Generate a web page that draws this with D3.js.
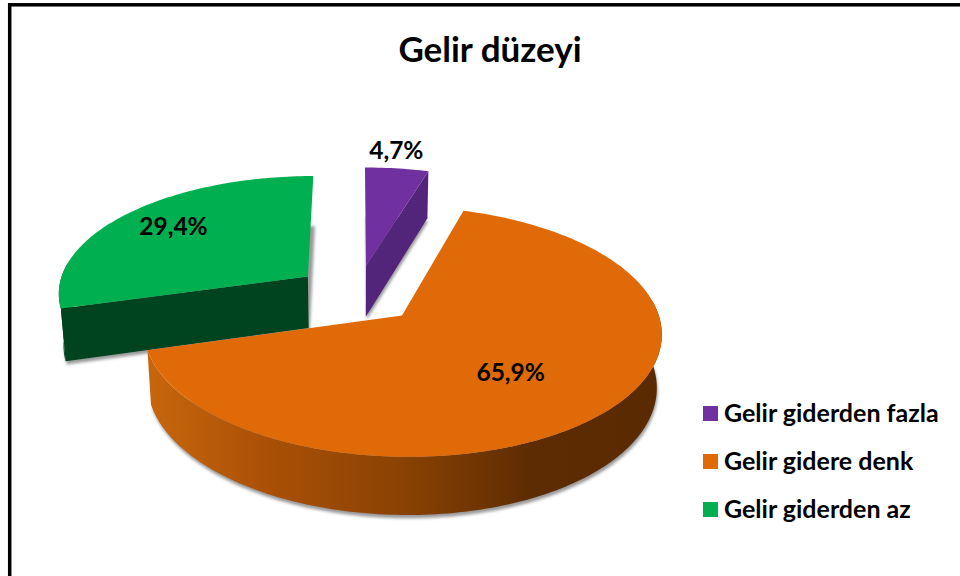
<!DOCTYPE html>
<html>
<head>
<meta charset="utf-8">
<title>Gelir düzeyi</title>
<script src="https://cdn.jsdelivr.net/npm/d3@7"></script>
<style>
  html, body { margin: 0; padding: 0; background: #fff; overflow: hidden; }
  text { font-family: Lato, "Open Sans", sans-serif; font-weight: 700; fill: #000; }
</style>
</head>
<body>
<svg id="chart" width="960" height="576"></svg>
<script>
const title = "Gelir düzeyi";
const categories = ["Gelir giderden fazla", "Gelir gidere denk", "Gelir giderden az"];
const values = [4.7, 65.9, 29.4];
const valueLabels = ["4,7%", "65,9%", "29,4%"];

const topColors = ["#7030a0", "#e06a08", "#00b050"];
const wallColors = ["#52247a", "url(#orangeWall)", "#00431f"];
const labelRadius = [1.2, 0.55, 0.73]; // how far out from the slice tip the label sits
const labelNudge = [[-6, -1], [2, 6], [-1, -3]];
const paintOrder = [2, 0, 1]; // orange top has to cover the green wall and purple tip

const svg = d3.select("#chart");
const centerX = 357, centerY = 294;
const radiusX = 251, radiusY = 117.5; // pie radius on screen
const perspective = 0.127;
const depth = 53; // wall height
const depthShrink = 0.016;
const explode = 0.25;

// z = 0 is the top of the pie, z = 1 the bottom
function project(x, y, z) {
  const w = 1 + perspective * y + depthShrink * z;
  return [centerX + radiusX * x / w, centerY + (-radiusY * y + depth * z) / w];
}

const slices = d3.pie().sort(null).value(d => d)(values);

function tipOf(s) {
  const mid = (s.startAngle + s.endAngle) / 2;
  return [explode * Math.sin(mid), explode * Math.cos(mid)];
}

function rimPoint(s, angle, z) {
  const tip = tipOf(s);
  return project(tip[0] + Math.sin(angle), tip[1] + Math.cos(angle), z);
}

function rimAngles(s) {
  const n = Math.ceil((s.endAngle - s.startAngle) / 0.02);
  return d3.range(n + 1).map(i => s.startAngle + (s.endAngle - s.startAngle) * i / n);
}

function rimPoints(s, z) {
  return rimAngles(s).map(a => rimPoint(s, a, z));
}

function tipPoint(s, z) {
  const tip = tipOf(s);
  return project(tip[0], tip[1], z);
}

const line = d3.line();
const closed = pts => line(pts) + "Z";

const defs = svg.append("defs");
const grad = defs.append("linearGradient")
  .attr("id", "orangeWall")
  .attr("gradientUnits", "userSpaceOnUse")
  .attr("x1", 148).attr("x2", 657).attr("y1", 0).attr("y2", 0);
grad.append("stop").attr("offset", "0%").attr("stop-color", "#c8660c");
grad.append("stop").attr("offset", "25%").attr("stop-color", "#a84f06");
grad.append("stop").attr("offset", "50%").attr("stop-color", "#8a4204");
grad.append("stop").attr("offset", "75%").attr("stop-color", "#5e2c02");
grad.append("stop").attr("offset", "100%").attr("stop-color", "#5a2a02");

defs.append("filter").attr("id", "blur")
  .attr("x", "-10%").attr("y", "-10%").attr("width", "120%").attr("height", "120%")
  .append("feGaussianBlur").attr("stdDeviation", 1.6);

svg.append("rect").attr("width", 960).attr("height", 576).attr("fill", "#fff");

// black frame, only top and left are in the picture
svg.append("rect")
  .attr("x", 9.7).attr("y", 4.8)
  .attr("width", 1000).attr("height", 700)
  .attr("fill", "none")
  .attr("stroke", "#000")
  .attr("stroke-width", 3.5);

svg.append("text")
  .attr("x", 490).attr("y", 62)
  .attr("text-anchor", "middle")
  .attr("font-size", 35)
  .text(title);

paintOrder.forEach(i => {
  const s = slices[i];
  const g = svg.append("g").attr("class", "slice");

  // soft shadow under the slice
  g.append("path")
    .attr("d", closed([tipPoint(s, 1.04)].concat(rimPoints(s, 1.04))))
    .attr("transform", "translate(1,1)")
    .attr("fill", "#777")
    .attr("opacity", 0.75)
    .attr("filter", "url(#blur)");

  // outer wall, front part of the rim only
  const front = rimAngles(s).filter(a => Math.cos(a) < 0.13);
  if (front.length > 1) {
    const upper = front.map(a => rimPoint(s, a, 0));
    const lower = front.map(a => rimPoint(s, a, 1)).reverse();
    g.append("path")
      .attr("d", closed(upper.concat(lower)))
      .attr("fill", wallColors[i]);
  }

  // cut walls, only the ones turned towards the viewer
  [[s.startAngle, -1], [s.endAngle, 1]].forEach(c => {
    if (Math.cos(c[0] + c[1] * Math.PI / 2) > -0.01) return;
    g.append("path")
      .attr("d", closed([tipPoint(s, 0), rimPoint(s, c[0], 0), rimPoint(s, c[0], 1), tipPoint(s, 1)]))
      .attr("fill", wallColors[i]);
  });

  // top face
  g.append("path")
    .attr("d", closed([tipPoint(s, 0)].concat(rimPoints(s, 0))))
    .attr("fill", topColors[i]);
});

// value labels
svg.selectAll(".value-label")
  .data(slices)
  .enter()
  .append("text")
  .attr("class", "value-label")
  .attr("transform", (d, i) => {
    const mid = (d.startAngle + d.endAngle) / 2;
    const tip = tipOf(d);
    const p = project(tip[0] + labelRadius[i] * Math.sin(mid), tip[1] + labelRadius[i] * Math.cos(mid), 0);
    return "translate(" + (p[0] + labelNudge[i][0]) + "," + (p[1] + labelNudge[i][1]) + ")";
  })
  .attr("text-anchor", "middle")
  .attr("dy", "0.35em")
  .attr("font-size", 24.5)
  .text((d, i) => valueLabels[i]);

// legend
const legendY = d3.scalePoint().domain(categories).range([413, 509]);
const legend = svg.selectAll(".legend-item")
  .data(categories)
  .enter()
  .append("g")
  .attr("class", "legend-item")
  .attr("transform", d => "translate(703," + legendY(d) + ")");

legend.append("rect")
  .attr("x", 0).attr("y", -7)
  .attr("width", 15).attr("height", 15)
  .attr("fill", (d, i) => topColors[i]);

legend.append("text")
  .attr("x", 21)
  .attr("dy", "0.35em")
  .attr("font-size", 25)
  .text(d => d);
</script>
</body>
</html>
